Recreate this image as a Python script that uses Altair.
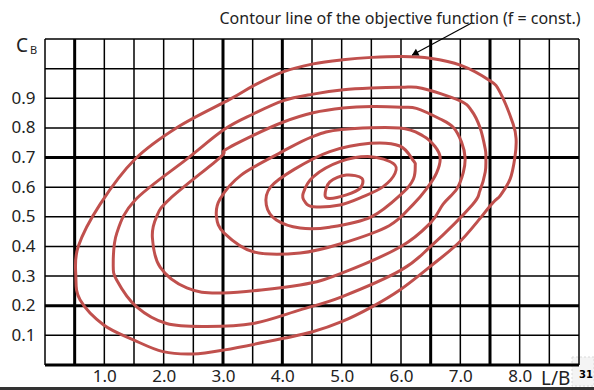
import altair as alt
import pandas as pd

FONT = "Noto Sans"
RED = "#c0504d"

# Grid: vertical lines every 0.5 in L/B, horizontal every 0.1 in C_B
grid_x = [0.0, 0.5, 1.0, 1.5, 2.0, 2.5, 3.0, 3.5, 4.0, 4.5, 5.0, 5.5, 6.0, 6.5, 7.0, 7.5, 8.0, 8.5, 9.0]
thick_x = [0.5, 3.0, 4.0, 6.5, 7.5]
grid_y = [0.0, 0.1, 0.2, 0.3, 0.4, 0.5, 0.6, 0.7, 0.8, 0.9, 1.0, 1.1]
thick_y = [0.0, 0.2, 0.7]

x_ticks = [1, 2, 3, 4, 5, 6, 7, 8]
y_ticks = [0.1, 0.2, 0.3, 0.4, 0.5, 0.6, 0.7, 0.8, 0.9]

# Contour lines of the objective function, outermost (c1) to innermost (c7)
c1_x = [0.52, 0.56, 0.93, 1.52, 2.24, 3.12, 3.51, 4.01, 4.52, 5.02, 5.51, 6.02, 6.49, 7.00, 7.50, 7.67, 7.89, 7.94, 7.92, 7.84, 7.67, 7.53, 7.02, 6.49, 5.98, 5.51, 5.00, 4.51, 4.02, 3.03, 2.49, 1.99, 1.50, 0.99, 0.59]
c1_y = [0.30, 0.40, 0.543, 0.695, 0.803, 0.897, 0.942, 0.989, 1.016, 1.030, 1.038, 1.041, 1.035, 1.012, 0.959, 0.920, 0.813, 0.762, 0.701, 0.628, 0.571, 0.543, 0.422, 0.332, 0.253, 0.196, 0.146, 0.112, 0.090, 0.051, 0.037, 0.045, 0.084, 0.135, 0.22]

c2_x = [1.15, 1.21, 1.52, 2.41, 3.03, 3.51, 4.02, 4.52, 5.03, 5.51, 6.01, 6.35, 6.99, 7.19, 7.33, 7.42, 7.43, 7.42, 7.33, 7.20, 6.50, 6.00, 5.00, 4.30, 3.51, 2.73, 2.05, 1.54, 1.21]
c2_y = [0.34, 0.445, 0.557, 0.698, 0.796, 0.847, 0.892, 0.914, 0.929, 0.935, 0.937, 0.934, 0.892, 0.858, 0.802, 0.729, 0.700, 0.651, 0.588, 0.540, 0.400, 0.320, 0.230, 0.186, 0.140, 0.130, 0.140, 0.197, 0.286]

c3_x = [1.81, 1.88, 2.10, 2.95, 3.03, 3.51, 4.02, 4.52, 5.03, 5.51, 6.01, 6.26, 6.66, 6.88, 7.02, 7.08, 7.05, 6.94, 6.71, 6.50, 6.00, 5.00, 4.30, 3.00, 2.39, 1.94]
c3_y = [0.43, 0.50, 0.56, 0.70, 0.725, 0.775, 0.82, 0.851, 0.867, 0.872, 0.870, 0.866, 0.83, 0.802, 0.752, 0.70, 0.65, 0.594, 0.543, 0.48, 0.40, 0.31, 0.27, 0.243, 0.26, 0.33]

c4_x = [2.89, 2.95, 3.30, 4.00, 4.50, 5.00, 5.98, 6.38, 6.57, 6.66, 6.60, 6.43, 6.21, 5.80, 5.00, 4.30, 3.51, 3.02]
c4_y = [0.50, 0.56, 0.64, 0.72, 0.77, 0.795, 0.80, 0.772, 0.738, 0.70, 0.648, 0.594, 0.543, 0.47, 0.41, 0.378, 0.382, 0.445]

c5_x = [3.73, 3.80, 4.20, 4.80, 5.48, 5.98, 6.21, 6.24, 6.21, 6.04, 5.50, 4.80, 4.30, 3.90]
c5_y = [0.54, 0.60, 0.66, 0.72, 0.748, 0.739, 0.689, 0.672, 0.628, 0.583, 0.50, 0.465, 0.462, 0.489]

c6_x = [4.35, 4.52, 4.97, 5.48, 5.87, 5.90, 5.70, 5.36, 4.97, 4.52, 4.38]
c6_y = [0.579, 0.635, 0.686, 0.703, 0.680, 0.647, 0.602, 0.568, 0.540, 0.534, 0.551]

c7_x = [4.72, 4.80, 5.08, 5.34, 5.31, 5.08, 4.80]
c7_y = [0.574, 0.618, 0.641, 0.630, 0.596, 0.574, 0.562]

# Annotation arrow: tail near the caption, head on the outermost contour
arrow_x = [7.19, 6.19]
arrow_y = [1.154, 1.046]

contours = [c1_x, c2_x, c3_x, c4_x, c5_x, c6_x, c7_x]
contours_y = [c1_y, c2_y, c3_y, c4_y, c5_y, c6_y, c7_y]
rows = []
for k, (xs, ys) in enumerate(zip(contours, contours_y)):
    for i, (a, b) in enumerate(zip(xs, ys)):
        rows.append({"level": k, "i": i, "lb": a, "cb": b})
contour_df = pd.DataFrame(rows)

vx_df = pd.DataFrame({"x": grid_x, "w": [3.0 if v in thick_x else 1.5 for v in grid_x]})
hy_df = pd.DataFrame({"y": grid_y, "w": [3.0 if v in thick_y else 1.5 for v in grid_y]})

xs = alt.Scale(domain=[0, 9], nice=False, zero=False)
ys = alt.Scale(domain=[0, 1.1], nice=False, zero=False)

x_axis = alt.Axis(values=x_ticks, format=".1f", labelFont=FONT, labelFontSize=17,
                  labelColor="#222222", domain=False, ticks=False, grid=False,
                  labelPadding=3, title=None)
y_axis = alt.Axis(values=y_ticks, format=".1f", labelFont=FONT, labelFontSize=17,
                  labelColor="#222222", domain=False, ticks=False, grid=False,
                  labelPadding=10, title=None)

vgrid = alt.Chart(vx_df).mark_rule(color="black").encode(
    x=alt.X("x:Q", scale=xs, axis=x_axis),
    y=alt.value(0), y2=alt.value(326),
    strokeWidth=alt.StrokeWidth("w:Q", scale=None),
)
hgrid = alt.Chart(hy_df).mark_rule(color="black").encode(
    y=alt.Y("y:Q", scale=ys, axis=y_axis),
    x=alt.value(0), x2=alt.value(534),
    strokeWidth=alt.StrokeWidth("w:Q", scale=None),
)

lines = alt.Chart(contour_df).mark_line(
    color=RED, strokeWidth=3, interpolate="cardinal-closed"
).encode(
    x=alt.X("lb:Q", scale=xs),
    y=alt.Y("cb:Q", scale=ys),
    detail="level:N",
    order="i:Q",
)

arrow_df = pd.DataFrame({"x": [arrow_x[0]], "y": [arrow_y[0]], "x2": [arrow_x[1]], "y2": [arrow_y[1]]})
arrow_line = alt.Chart(arrow_df).mark_rule(color="black", strokeWidth=1.2).encode(
    x=alt.X("x:Q", scale=xs), y=alt.Y("y:Q", scale=ys), x2="x2:Q", y2="y2:Q"
)
head_df = pd.DataFrame({"x": [arrow_x[1]], "y": [arrow_y[1]]})
arrow_head = alt.Chart(head_df).mark_point(
    shape="triangle-up", filled=True, color="black", size=60, angle=242, opacity=1,
    xOffset=2.5, yOffset=-1.3
).encode(x=alt.X("x:Q", scale=xs), y=alt.Y("y:Q", scale=ys))

caption = alt.Chart(pd.DataFrame({"t": ["Contour line of the objective function (f = const.)"]})).mark_text(
    font=FONT, fontSize=16, color="#222222", align="center", baseline="alphabetic"
).encode(text="t:N", x=alt.value(355), y=alt.value(-15))

cb_c = alt.Chart(pd.DataFrame({"t": ["C"]})).mark_text(
    font=FONT, fontSize=19, color="#222222", align="left", baseline="alphabetic"
).encode(text="t:N", x=alt.value(-29), y=alt.value(13))
cb_b = alt.Chart(pd.DataFrame({"t": ["B"]})).mark_text(
    font=FONT, fontSize=11, color="#222222", align="left", baseline="alphabetic"
).encode(text="t:N", x=alt.value(-15), y=alt.value(15))

lb = alt.Chart(pd.DataFrame({"t": ["L/B"]})).mark_text(
    font=FONT, fontSize=19, color="#222222", align="left", baseline="alphabetic"
).encode(text="t:N", x=alt.value(496), y=alt.value(346))

page_box = alt.Chart(pd.DataFrame({"a": [1]})).mark_rect(
    fill="#f4f4f4", stroke="#d8d8d8", strokeDash=[2, 2], strokeWidth=1
).encode(x=alt.value(527), x2=alt.value(549), y=alt.value(318), y2=alt.value(347))
page_no = alt.Chart(pd.DataFrame({"t": ["31"]})).mark_text(
    font="DejaVu Sans", fontSize=10, fontWeight="bold", color="black", align="center", baseline="middle"
).encode(text="t:N", x=alt.value(541), y=alt.value(336))

bottom_bar = alt.Chart(pd.DataFrame({"a": [1]})).mark_rule(color="#333333", strokeWidth=3).encode(
    x=alt.value(-45), x2=alt.value(549), y=alt.value(349.5), y2=alt.value(349.5)
)

chart = alt.layer(
    page_box, vgrid, hgrid, lines, arrow_line, arrow_head, caption, cb_c, cb_b, lb, page_no, bottom_bar
).properties(
    width=534, height=326,
    autosize=alt.AutoSizeParams(type="none"),
    padding={"left": 45, "top": 39, "right": 15, "bottom": 25},
    background="white",
).configure_view(stroke=None)

chart.save("out.html", embed_options={"renderer": "svg", "actions": False})
